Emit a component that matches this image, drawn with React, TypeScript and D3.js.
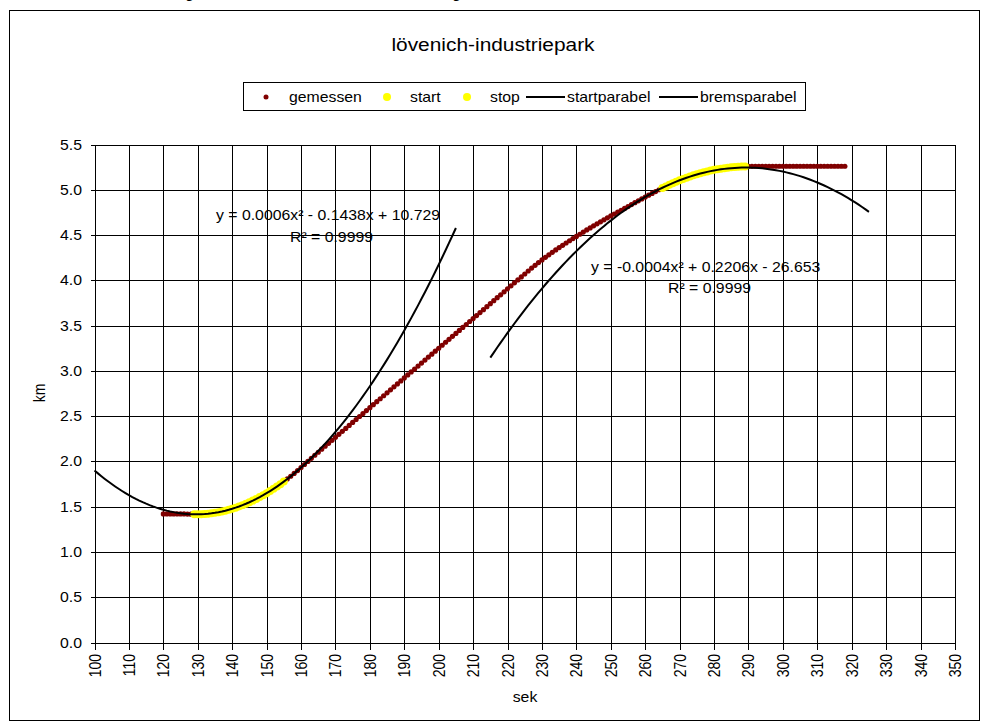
import React from "react";
import * as d3 from "d3";

// Axis ticks
const xTickValues = [100, 110, 120, 130, 140, 150, 160, 170, 180, 190, 200, 210, 220, 230, 240, 250, 260, 270, 280, 290, 300, 310, 320, 330, 340, 350];
const yTickValues = [0, 0.5, 1, 1.5, 2, 2.5, 3, 3.5, 4, 4.5, 5, 5.5];

// Measured track position (km), one reading per second starting at 120 s
const gemessenStartSek = 120;
const gemessenKm = [
  1.42, 1.42, 1.42, 1.42, 1.42, 1.42, 1.42, 1.418, 1.417, 1.416,
  1.416, 1.417, 1.42, 1.423, 1.427, 1.433, 1.439, 1.447, 1.456, 1.466,
  1.477, 1.489, 1.503, 1.517, 1.533, 1.549, 1.567, 1.586, 1.606, 1.627,
  1.649, 1.673, 1.697, 1.723, 1.749, 1.777, 1.806, 1.836, 1.867, 1.899,
  1.932, 1.966, 2.0, 2.034, 2.068, 2.101, 2.135, 2.168, 2.2, 2.233,
  2.266, 2.299, 2.332, 2.364, 2.397, 2.43, 2.463, 2.496, 2.528, 2.561,
  2.594, 2.627, 2.66, 2.692, 2.725, 2.758, 2.791, 2.824, 2.856, 2.889,
  2.922, 2.955, 2.988, 3.02, 3.053, 3.086, 3.119, 3.152, 3.184, 3.217,
  3.25, 3.283, 3.316, 3.348, 3.381, 3.414, 3.447, 3.48, 3.512, 3.545,
  3.578, 3.611, 3.644, 3.676, 3.709, 3.742, 3.775, 3.808, 3.84, 3.873,
  3.906, 3.939, 3.972, 4.004, 4.037, 4.07, 4.103, 4.135, 4.166, 4.196,
  4.225, 4.254, 4.282, 4.309, 4.336, 4.362, 4.387, 4.412, 4.437, 4.461,
  4.485, 4.509, 4.533, 4.556, 4.579, 4.602, 4.624, 4.646, 4.668, 4.69,
  4.711, 4.732, 4.753, 4.774, 4.794, 4.814, 4.836, 4.857, 4.878, 4.899,
  4.92, 4.94, 4.96, 4.98, 5.0, 5.019, 5.037, 5.055, 5.072, 5.089,
  5.105, 5.12, 5.134, 5.147, 5.16, 5.172, 5.183, 5.193, 5.203, 5.212,
  5.22, 5.227, 5.233, 5.239, 5.244, 5.248, 5.251, 5.254, 5.256, 5.258,
  5.26, 5.26, 5.26, 5.26, 5.26, 5.26, 5.26, 5.26, 5.26, 5.26,
  5.26, 5.26, 5.26, 5.26, 5.26, 5.26, 5.26, 5.26, 5.26, 5.26,
  5.26, 5.26, 5.26, 5.26, 5.26, 5.26, 5.26, 5.26, 5.26,
];

// Time windows (s) of the start and stop phases
const startRange = [129, 155];
const stopRange = [265, 289];

// Fitted parabolas y = a·x² + b·x + c and their sample ranges (s)
const startparabelCoef = [0.0005551, -0.1438, 10.729];
const startparabelSek = [100, 205];
const bremsparabelCoef = [-0.0003814, 0.2206, -26.653];
const bremsparabelSek = [215, 325];
const rSquared = [0.9999, 0.9999];

const FONT = "'Liberation Sans', Arial, Helvetica, sans-serif";
const SX = 1.13;
const DARKRED = "#800000";
const YELLOW = "#FFFF00";

type P = { t: number; km: number };

const gemessen: P[] = gemessenKm.map((km, i) => ({ t: gemessenStartSek + i, km }));
const startPts = gemessen.filter((d) => d.t >= startRange[0] && d.t <= startRange[1]);
const stopPts = gemessen.filter((d) => d.t >= stopRange[0] && d.t <= stopRange[1]);

const parabola = (coef: number[], range: number[]): P[] =>
  d3.range(range[0], range[1] + 0.001, 1).map((t) => ({
    t,
    km: coef[0] * t * t + coef[1] * t + coef[2],
  }));

// plain hyphen-minus, as the spreadsheet prints it
const locale = d3.formatLocale({ decimal: ".", thousands: ",", grouping: [3], currency: ["", ""], minus: "-" });
const f4 = locale.format(".4f");
const f3 = locale.format(".3f");
const f1 = locale.format(".1f");
const sign = (v: number) => (v < 0 ? "-" : "+");
const equation = (c: number[]) =>
  `y = ${f4(c[0])}x² ${sign(c[1])} ${f4(Math.abs(c[1]))}x ${sign(c[2])} ${f3(Math.abs(c[2]))}`;

function T(props: {
  x: number;
  y: number;
  size: number;
  anchor?: string;
  rotate?: number;
  dy?: string;
  children: React.ReactNode;
}) {
  const { x, y, size, anchor = "start", rotate = 0, dy, children } = props;
  return (
    <text
      transform={`translate(${x},${y}) scale(${SX},1)${rotate ? ` rotate(${rotate})` : ""}`}
      fontFamily={FONT}
      fontSize={size}
      textAnchor={anchor}
      dy={dy}
      fill="#000"
    >
      {children}
    </text>
  );
}

export default function App() {
  const x = d3.scaleLinear().domain([100, 350]).range([94.5, 955]);
  const y = d3.scaleLinear().domain([0, 5.5]).range([642.5, 144.5]);
  const px = (v: number) => Math.round(x(v)) + 0.5;
  const py = (v: number) => Math.round(y(v)) + 0.5;

  const line = d3
    .line<P>()
    .x((d) => x(d.t))
    .y((d) => y(d.km));

  const startLine = parabola(startparabelCoef, startparabelSek);
  const bremsLine = parabola(bremsparabelCoef, bremsparabelSek);

  const legendY = 97;

  return (
    <svg
      width={983}
      height={727}
      style={{ position: "absolute", left: 0, top: 0, background: "#fff" }}
    >
      <rect x={0} y={0} width={983} height={727} fill="#fff" />
      {/* descenders of the caption line above the chart */}
      <T x={185} y={-2} size={14}>g</T>
      <T x={452} y={-2} size={14}>g</T>

      {/* chart frame */}
      <rect x={9.5} y={10.5} width={970} height={710} fill="#fff" stroke="#000" strokeWidth={1} />

      <T x={493} y={51} size={18.5} anchor="middle">lövenich-industriepark</T>

      {/* legend */}
      <rect x={243.5} y={82.5} width={562} height={28} fill="#fff" stroke="#000" strokeWidth={1} />
      <circle cx={266} cy={legendY} r={2.5} fill={DARKRED} />
      <T x={289} y={legendY} size={14} dy="0.35em">gemessen</T>
      <circle cx={387} cy={legendY} r={4} fill={YELLOW} />
      <T x={410} y={legendY} size={14} dy="0.35em">start</T>
      <circle cx={467} cy={legendY} r={4} fill={YELLOW} />
      <T x={490} y={legendY} size={14} dy="0.35em">stop</T>
      <line x1={526} x2={565} y1={legendY} y2={legendY} stroke="#000" strokeWidth={2} />
      <T x={567} y={legendY} size={14} dy="0.35em">startparabel</T>
      <line x1={659} x2={698} y1={legendY} y2={legendY} stroke="#000" strokeWidth={2} />
      <T x={700} y={legendY} size={14} dy="0.35em">bremsparabel</T>

      {/* grid */}
      <g shapeRendering="crispEdges" stroke="#000" strokeWidth={1}>
        {xTickValues.map((v) => (
          <line key={"gx" + v} x1={px(v)} x2={px(v)} y1={py(5.5)} y2={py(0) + 6} />
        ))}
        {yTickValues.map((v) => (
          <line key={"gy" + v} x1={px(100) - 5} x2={px(350)} y1={py(v)} y2={py(v)} />
        ))}
      </g>

      {/* tick labels */}
      {yTickValues.map((v) => (
        <T key={"ty" + v} x={82} y={py(v)} size={14} anchor="end" dy="0.35em">
          {f1(v)}
        </T>
      ))}
      {xTickValues.map((v) => (
        <T key={"tx" + v} x={px(v)} y={654} size={14} anchor="end" rotate={-90} dy="0.35em">
          {String(v)}
        </T>
      ))}
      <T x={39} y={393} size={14} anchor="middle" rotate={-90} dy="0.35em">km</T>
      <T x={525} y={702} size={14} anchor="middle">sek</T>

      {/* measured points */}
      {gemessen.map((d) => (
        <circle key={"g" + d.t} cx={x(d.t)} cy={y(d.km)} r={2.6} fill={DARKRED} />
      ))}
      {startPts.map((d) => (
        <circle key={"s" + d.t} cx={x(d.t)} cy={y(d.km)} r={4} fill={YELLOW} />
      ))}
      {stopPts.map((d) => (
        <circle key={"p" + d.t} cx={x(d.t)} cy={y(d.km)} r={4} fill={YELLOW} />
      ))}

      {/* fitted parabolas */}
      <path d={line(startLine) ?? ""} fill="none" stroke="#000" strokeWidth={2} />
      <path d={line(bremsLine) ?? ""} fill="none" stroke="#000" strokeWidth={2} />

      {/* trendline equations */}
      <T x={216} y={220} size={14}>{equation(startparabelCoef)}</T>
      <T x={290} y={242} size={14}>{`R² = ${f4(rSquared[0])}`}</T>
      <T x={591} y={271.5} size={14}>{equation(bremsparabelCoef)}</T>
      <T x={668} y={293} size={14}>{`R² = ${f4(rSquared[1])}`}</T>
    </svg>
  );
}
